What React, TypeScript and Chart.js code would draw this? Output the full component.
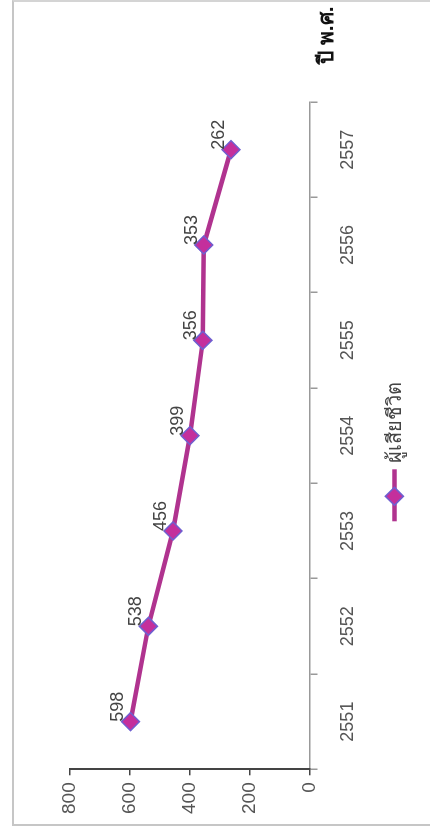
import React, { useEffect, useRef } from "react";
import { Chart, registerables } from "chart.js";

Chart.register(...registerables);

const years = ["2551", "2552", "2553", "2554", "2555", "2556", "2557"];
const deaths = [598, 538, 456, 399, 356, 353, 262];
const valueTicks = [0, 200, 400, 600, 800];
const seriesName = "ผู้เสียชีวิต";
const axisTitle = "ปี พ.ศ.";

const W = 826;
const H = 418;
const FONT = '"Liberation Sans", Arial, "Noto Sans", sans-serif';
const LINE = "#B0338F";
const FILL = "#C42F9C";
const EDGE = "#6F5FD0";

const extras = {
  id: "extras",
  afterDatasetsDraw(chart: any) {
    const ctx = chart.ctx;
    const meta = chart.getDatasetMeta(0);
    const a = chart.chartArea;
    ctx.save();
    // data labels
    ctx.font = `18px ${FONT}`;
    ctx.fillStyle = "#444";
    ctx.textAlign = "center";
    ctx.textBaseline = "alphabetic";
    meta.data.forEach((pt: any, i: number) => {
      ctx.fillText(String(deaths[i]), pt.x + 15, pt.y - 7);
    });
    // legend
    const lx = a.left + 248;
    const ly = a.bottom + 85;
    ctx.strokeStyle = LINE;
    ctx.lineWidth = 4.5;
    ctx.beginPath();
    ctx.moveTo(lx, ly);
    ctx.lineTo(lx + 52, ly);
    ctx.stroke();
    const cx = lx + 25;
    const r = 9;
    ctx.beginPath();
    ctx.moveTo(cx, ly - r);
    ctx.lineTo(cx + r, ly);
    ctx.lineTo(cx, ly + r);
    ctx.lineTo(cx - r, ly);
    ctx.closePath();
    ctx.fillStyle = FILL;
    ctx.fill();
    ctx.strokeStyle = EDGE;
    ctx.lineWidth = 1.5;
    ctx.stroke();
    ctx.font = `20px ${FONT}`;
    ctx.fillStyle = "#444";
    ctx.textAlign = "left";
    ctx.textBaseline = "middle";
    ctx.fillText(seriesName, lx + 58, ly + 1);
    // axis title
    ctx.font = `bold 21px ${FONT}`;
    ctx.fillStyle = "#111";
    ctx.textAlign = "left";
    ctx.textBaseline = "alphabetic";
    ctx.fillText(axisTitle, a.right + 38, a.bottom + 24);
    ctx.restore();
  },
};

export default function App() {
  const ref = useRef<HTMLCanvasElement>(null);
  useEffect(() => {
    const chart = new Chart(ref.current as HTMLCanvasElement, {
      type: "line",
      data: {
        labels: years,
        datasets: [
          {
            label: seriesName,
            data: deaths,
            borderColor: LINE,
            borderWidth: 4.5,
            tension: 0,
            pointStyle: "rectRot",
            pointRadius: 9,
            pointBackgroundColor: FILL,
            pointBorderColor: EDGE,
            pointBorderWidth: 1.5,
          },
        ],
      },
      options: {
        responsive: false,
        animation: false,
        layout: { padding: { left: 5, top: 58, right: 102, bottom: 51 } },
        plugins: {
          legend: { display: false },
          tooltip: { enabled: false },
        },
        scales: {
          x: {
            type: "category",
            offset: true,
            grid: {
              offset: true,
              drawOnChartArea: false,
              drawTicks: true,
              tickLength: 8,
              color: "#999",
              lineWidth: 1.5,
            },
            border: { color: "#999", width: 1.5 },
            ticks: {
              font: { family: FONT, size: 18 },
              color: "#555",
              padding: 20,
              maxRotation: 0,
              autoSkip: false,
            },
          },
          y: {
            min: 0,
            max: 800,
            afterBuildTicks: (axis: any) => {
              axis.ticks = valueTicks.map((v) => ({ value: v }));
            },
            ticks: {
              font: { family: FONT, size: 19 },
              color: "#555",
              padding: 7,
            },
            grid: {
              drawOnChartArea: false,
              drawTicks: true,
              tickLength: 6,
              color: "#444",
              lineWidth: 1.5,
            },
            border: { color: "#444", width: 2 },
          },
        },
      },
      plugins: [extras],
    });
    return () => chart.destroy();
  }, []);

  return (
    <div
      style={{
        position: "absolute",
        left: 0,
        top: 0,
        width: W,
        height: H,
        transformOrigin: "0 0",
        transform: "translate(12px, 826px) rotate(-90deg)",
        background: "#fff",
      }}
    >
      <canvas ref={ref} width={W} height={H} style={{ display: "block", width: W, height: H }} />
      <div
        style={{
          position: "absolute",
          left: 0,
          top: 0,
          right: 0,
          bottom: 0,
          borderTop: "2px solid #c6c6c6",
          borderLeft: "2px solid #c6c6c6",
          borderRight: "2px solid #d4d4d4",
          pointerEvents: "none",
        }}
      />
    </div>
  );
}
